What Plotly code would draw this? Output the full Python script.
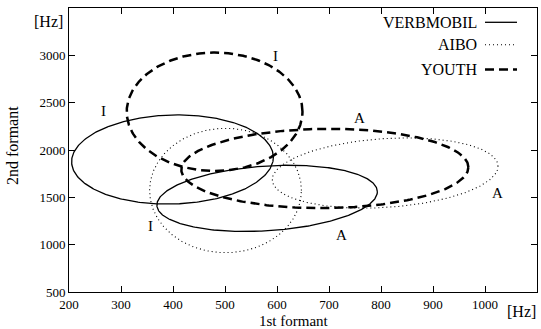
import numpy as np
import plotly.graph_objects as go

# Ellipse parameters (data units: Hz)
corpora = ["VERBMOBIL", "VERBMOBIL", "AIBO", "AIBO", "YOUTH", "YOUTH"]
vowels = ["I", "A", "I", "A", "I", "A"]
center_f1 = [399, 581, 501, 808, 480, 692]
center_f2 = [1900, 1489, 1572, 1757, 2404, 1805]
spread_f1 = [194, 212, 146, 217, 169, 276]
spread_f2 = [471, 350, 657, 371, 625, 419]
correlation = [0.05, 0.2, 0.0, 0.19, 0.0, 0.03]

# Vowel label positions
label_text = ["I", "I", "I", "A", "A", "A"]
label_f1 = [266, 598, 357, 758, 1024, 724]
label_f2 = [2417, 2989, 1196, 2337, 1542, 1100]

x_ticks = [200, 300, 400, 500, 600, 700, 800, 900, 1000]
y_ticks = [500, 1000, 1500, 2000, 2500, 3000]

styles = {
    "VERBMOBIL": dict(color="black", width=1.3, dash="solid"),
    "AIBO": dict(color="black", width=1.1, dash="1px,3px"),
    "YOUTH": dict(color="black", width=2.5, dash="9px,5px"),
}

SERIF = "Liberation Serif"

fig = go.Figure()
t = np.linspace(0, 2 * np.pi, 361)
for corp, cx, cy, sx, sy, r in zip(corpora, center_f1, center_f2, spread_f1, spread_f2, correlation):
    xs = cx + sx * np.cos(t)
    ys = cy + sy * (r * np.cos(t) + np.sqrt(1 - r * r) * np.sin(t))
    fig.add_trace(go.Scatter(x=xs, y=ys, mode="lines", line=styles[corp],
                             showlegend=False, hoverinfo="skip"))

for txt, lx, ly in zip(label_text, label_f1, label_f2):
    fig.add_annotation(x=lx, y=ly, text=txt, showarrow=False,
                       xanchor="center", yanchor="middle",
                       font=dict(family=SERIF, size=15, color="black"))

# plot area geometry
L, R, T, B = 69, 4, 8, 37
W, H = 541, 329
pw, ph = W - L - R, H - T - B

def px(xp):
    return (xp - L) / pw

def py(yp):
    return (H - B - yp) / ph

def paper_text(xp, yp, text, angle=0, xanchor="center", size=16):
    fig.add_annotation(xref="paper", yref="paper", x=px(xp), y=py(yp), text=text,
                       showarrow=False, xanchor=xanchor, yanchor="middle", textangle=angle,
                       borderpad=0, font=dict(family=SERIF, size=size, color="black"))

# custom legend (text left, sample right)
legend_names = ["VERBMOBIL", "AIBO", "YOUTH"]
legend_y = [22.3, 44.7, 69.5]
for name, ly in zip(legend_names, legend_y):
    paper_text(478, ly, name, xanchor="right")
    st = styles[name]
    fig.add_shape(type="line", xref="paper", yref="paper", x0=px(485), x1=px(517),
                  y0=py(ly), y1=py(ly), line=dict(color="black", width=st["width"], dash=st["dash"]))

# axis titles and unit labels
paper_text(294, 320.5, "1st formant", size=15)
paper_text(12, 146, "2nd formant", angle=-90, size=16)
paper_text(48, 21.7, "[Hz]")
paper_text(521, 311.5, "[Hz]")

axis_common = dict(showgrid=False, zeroline=False, showline=True, linecolor="black",
                   linewidth=1, mirror="ticks", ticks="inside", ticklen=6,
                   tickcolor="black", tickwidth=1, automargin=False,
                   tickfont=dict(family=SERIF, size=13, color="black"))

fig.update_xaxes(range=[200, 1100], tickvals=x_ticks + [1100],
                 ticktext=[str(v) for v in x_ticks] + [""], **axis_common)
fig.update_yaxes(range=[500, 3500], tickvals=y_ticks + [3500],
                 ticktext=[str(v) for v in y_ticks] + [""], **axis_common)

fig.update_layout(width=W, height=H, margin=dict(l=L, r=R, t=T, b=B),
                  plot_bgcolor="white", paper_bgcolor="white", showlegend=False,
                  font=dict(family=SERIF, color="black"))

fig.write_html("out.html", config={"displayModeBar": False},
               post_script="document.body.style.margin='0px';document.body.style.padding='0px';")
